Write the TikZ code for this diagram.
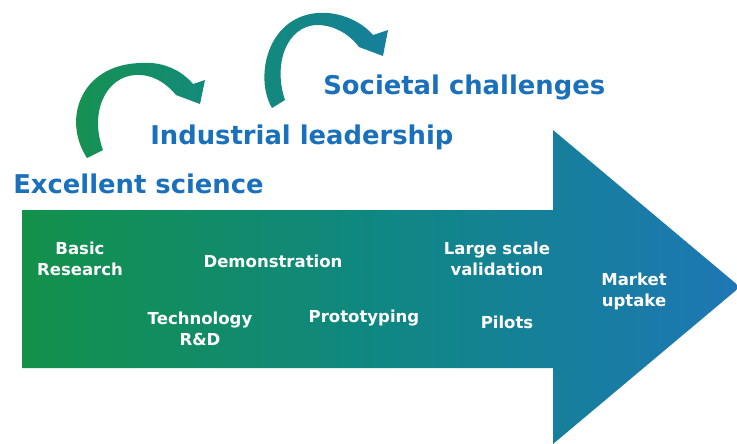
\documentclass[tikz,border=0pt]{standalone}
\usepackage{fontspec}
\setmainfont{DejaVu Sans}
\usepackage{tikz}
\usepackage{xcolor}
\definecolor{titleblue}{HTML}{1A70BA}
\definecolor{leafgreen}{HTML}{13914A}
\definecolor{tealmid}{HTML}{0F8783}
\definecolor{deepblue}{HTML}{1E77B5}
\definecolor{arcgreen}{HTML}{16924C}
\definecolor{arcteal}{HTML}{138A7A}
\definecolor{arcblue}{HTML}{167F9C}

\begin{document}
\begin{tikzpicture}[x=0.02cm, y=-0.02cm,
    title/.style = {text=titleblue, font=\bfseries\fontsize{14.7}{17}\selectfont, inner sep=0pt, anchor=base west},
    stage/.style = {text=white, font=\bfseries\fontsize{9.4}{12}\selectfont, align=center, inner sep=0pt}
    ]
    \useasboundingbox (0,0) rectangle (737,443);
    \begin{scope}
    \clip (0,0) rectangle (737,443);
    % big arrow
    \shade[left color=leafgreen, right color=deepblue, middle color=tealmid]
      (22,210) -- (553,210) -- (553,130) -- (740,287) -- (553,444) -- (553,368) -- (22,368) -- cycle;
    \end{scope}

    % curved arrows
    \shade[left color=arcgreen, right color=arcteal]
      (87,158) .. controls (62,120) and (80,65) .. (140,63)
      .. controls (165,61) and (183,72) .. (193,84)
      -- (205,80) -- (200,104) -- (176,95)
      .. controls (165,82) and (152,74) .. (135,75)
      .. controls (106,77) and (89,112) .. (103,150) -- cycle;
    \shade[left color=arcteal, right color=arcblue]
      (272,108) .. controls (255,80) and (265,18) .. (317,13)
      .. controls (340,11) and (362,22) .. (373,35)
      -- (388,30) -- (383,56) -- (359,47)
      .. controls (350,35) and (335,25) .. (317,25)
      .. controls (286,26) and (273,65) .. (285,100) -- cycle;

    % pillars
    \node[title] (science) at (13,193) {Excellent science};
    \node[title] (industry) at (150,144) {Industrial leadership};
    \node[title] (society) at (323,94) {Societal challenges};

    % stages
    \node[stage] (basic) at (80,259) {Basic\\Research};
    \node[stage] (demo) at (273,261) {Demonstration};
    \node[stage] (techrd) at (200,329) {Technology\\R\&D};
    \node[stage] (proto) at (364,318) {Prototyping};
    \node[stage] (largescale) at (497,259) {Large scale\\validation};
    \node[stage] (pilots) at (507,322) {Pilots};
    \node[stage] (market) at (634,291) {Market\\uptake};
\end{tikzpicture}
\end{document}
